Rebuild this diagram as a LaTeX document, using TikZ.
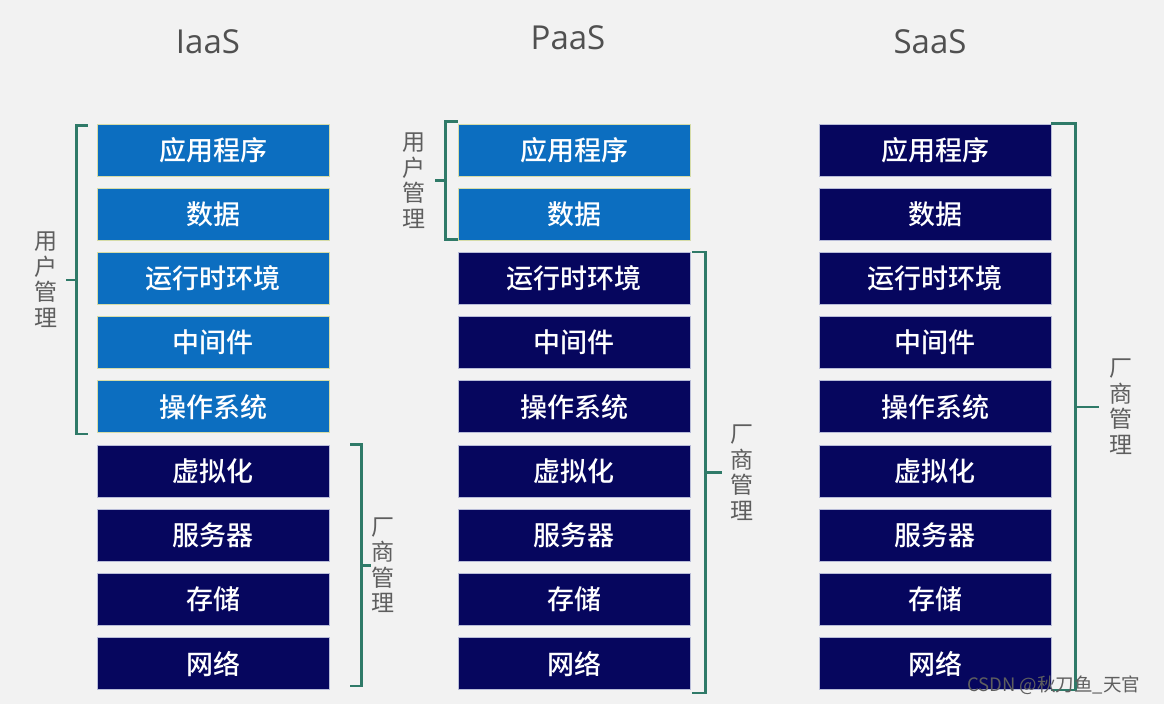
\documentclass[tikz,border=0pt]{standalone}
\usepackage{fontspec}
\setmainfont{Open Sans}
\newfontfamily\cjk{Noto Sans CJK SC}
\newfontfamily\cjkm{Noto Sans CJK SC Medium}
\usetikzlibrary{calc}
\definecolor{bgc}{HTML}{F2F2F2}
\definecolor{lightbox}{HTML}{0C6EC0}
\definecolor{lightedge}{HTML}{D6DCA8}
\definecolor{darkbox}{HTML}{06065E}
\definecolor{darkedge}{HTML}{B8BCD8}
\definecolor{brk}{HTML}{2F7A68}
\definecolor{lbl}{HTML}{5E5E5E}
\definecolor{ttl}{HTML}{505050}
\tikzset{
  layer/.style={minimum width=232pt, minimum height=52pt, inner sep=0pt, line width=0.8pt,
    text=white, font=\cjkm\fontsize{27}{30}\selectfont},
  userlayer/.style={layer, fill=lightbox, draw=lightedge},
  vendlayer/.style={layer, fill=darkbox, draw=darkedge},
  bracket/.style={draw=brk, line width=2.4pt, line join=miter},
  sidelabel/.style={text=lbl, align=center, inner sep=0pt, font=\cjk\fontsize{23}{25.5}\selectfont},
  title/.style={text=ttl, font=\fontsize{33}{36}\selectfont, inner sep=0pt}
}
\begin{document}
\begin{tikzpicture}[x=1pt,y=-1pt]
\fill[bgc] (0,0) rectangle (1164,704);
\useasboundingbox (0,0) rectangle (1164,704);
% titles
\node[title] (tI) at (208,42) {IaaS};
\node[title] (tP) at (568,38) {PaaS};
\node[title] (tS) at (930,42) {SaaS};
% layers
\foreach \t [count=\i from 0] in {应用程序,数据,运行时环境,中间件,操作系统,虚拟化,服务器,存储,网络}{
  \pgfmathsetmacro{\yy}{150+64.2*\i}
  \ifnum\i<5
    \node[userlayer] (i\i) at (213,\yy) {\t};
  \else
    \node[vendlayer] (i\i) at (213,\yy) {\t};
  \fi
  \ifnum\i<2
    \node[userlayer] (p\i) at (574,\yy) {\t};
  \else
    \node[vendlayer] (p\i) at (574,\yy) {\t};
  \fi
  \node[vendlayer] (s\i) at (935,\yy) {\t};
}
% IaaS user bracket
\coordinate (iua) at ($(i0.north west)+(-9,2)$);
\coordinate (iub) at ($(i4.south west)+(-9,1)$);
\draw[bracket] (iua) -- ++(-11,0) |- (iub);
\coordinate (ium) at ($(iua)!0.5!(iub)+(-11,0)$);
\draw[bracket] (ium) -- ++(-11,0) coordinate (iul);
\node[sidelabel, anchor=east] (iuL) at ($(iul)+(-8,0)$) {用\\户\\管\\理};
% IaaS vendor bracket
\coordinate (iva) at ($(i5.north east)+(21,0)$);
\coordinate (ivb) at ($(i8.south east)+(21,-4)$);
\draw[bracket] (iva) -- ++(11,0) |- (ivb);
\coordinate (ivm) at ($(iva)!0.5!(ivb)+(11,0)$);
\draw[bracket] (ivm) -- ++(10,0) coordinate (ivl);
\node[sidelabel, anchor=west] (ivL) at ($(ivl)+(0,0)$) {厂\\商\\管\\理};
% PaaS user bracket
\coordinate (pua) at ($(p0.north west)+(0,-2)$);
\coordinate (pub) at ($(p1.south west)+(0,-1)$);
\draw[bracket] (pua) -- ++(-12,0) |- (pub);
\coordinate (pum) at ($(pua)!0.5!(pub)+(-12,0)$);
\draw[bracket] (pum) -- ++(-11,0) coordinate (pul);
\node[sidelabel, anchor=east] (puL) at ($(pul)+(-9,0)$) {用\\户\\管\\理};
% PaaS vendor bracket
\coordinate (pva) at ($(p2.north east)+(2,0)$);
\coordinate (pvb) at ($(p8.south east)+(2,3)$);
\draw[bracket] (pva) -- ++(13,0) |- (pvb);
\coordinate (pvm) at ($(pva)!0.5!(pvb)+(13,0)$);
\draw[bracket] (pvm) -- ++(17,0) coordinate (pvl);
\node[sidelabel, anchor=west] (pvL) at ($(pvl)+(8,0)$) {厂\\商\\管\\理};
% SaaS vendor bracket
\coordinate (sva) at ($(s0.north east)+(0,0)$);
\coordinate (svb) at ($(s8.south east)+(0,0)$);
\draw[bracket] (sva) -- ++(24,0) |- (svb);
\coordinate (svm) at ($(sva)!0.5!(svb)+(24,0)$);
\draw[bracket] (svm) -- ++(24,0) coordinate (svl);
\node[sidelabel, anchor=west] (svL) at ($(svl)+(10,0)$) {厂\\商\\管\\理};
% watermark
\node[anchor=west, text=lbl, inner sep=0pt, font=\cjk\fontsize{18.5}{20}\selectfont] (wm) at (967,685) {CSDN @秋刀鱼\_天官};
\end{tikzpicture}
\end{document}
